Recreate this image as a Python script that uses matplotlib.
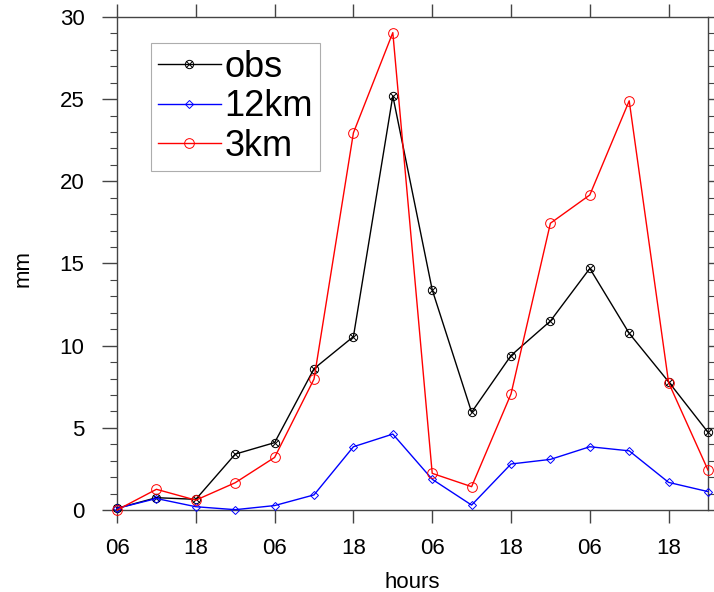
import matplotlib
matplotlib.use("Agg")
import matplotlib.pyplot as plt
from matplotlib.path import Path
from matplotlib.ticker import MultipleLocator

# precipitation every 6 hours
steps = list(range(16))
obs = [0.1, 0.75, 0.65, 3.4, 4.1, 8.6, 10.55, 25.2, 13.4, 5.95, 9.4, 11.5, 14.7, 10.75, 7.8, 4.73]
km12 = [0.1, 0.7, 0.2, 0.02, 0.27, 0.92, 3.85, 4.62, 1.87, 0.3, 2.8, 3.08, 3.85, 3.6, 1.68, 1.12]
km3 = [0.0, 1.26, 0.6, 1.66, 3.2, 7.97, 22.95, 29.05, 2.23, 1.42, 7.06, 17.45, 19.17, 24.9, 7.75, 2.43]
tick_pos = [0, 2, 4, 6, 8, 10, 12, 14]
tick_lab = ['06', '18', '06', '18', '06', '18', '06', '18']

plt.rcParams['font.family'] = ['Liberation Sans', 'DejaVu Sans']

# circle with a cross inside, like the NCL marker
circ = Path.unit_circle()
cross = Path([[-0.7, -0.7], [0.7, 0.7], [-0.7, 0.7], [0.7, -0.7]],
             [Path.MOVETO, Path.LINETO, Path.MOVETO, Path.LINETO])
circx = Path.make_compound_path(circ, cross)

fig = plt.figure(figsize=(7.14, 5.92), dpi=100)
ax = fig.add_axes([0.1639, 0.1385, 0.8277, 0.8328])

ax.plot(steps, obs, color='black', lw=1.0, marker=circx, ms=6, mfc='none',
        mew=0.7, label='obs', clip_on=False, zorder=3)
ax.plot(steps, km12, color='blue', lw=1.0, marker='D', ms=4.5, mfc='none',
        mew=0.7, label='12km', clip_on=False, zorder=3)
ax.plot(steps, km3, color='red', lw=1.0, marker='o', ms=7, mfc='none',
        mew=0.7, label='3km', clip_on=False, zorder=3)

ax.set_xlim(0, 15)
ax.set_ylim(0, 30)
ax.set_xticks(tick_pos)
ax.set_xticklabels(tick_lab)
ax.yaxis.set_major_locator(MultipleLocator(5))
ax.yaxis.set_minor_locator(MultipleLocator(1))

grey = '#444444'
for s in ax.spines.values():
    s.set_color(grey)
    s.set_linewidth(1.0)
ax.tick_params(axis='both', which='both', direction='out', colors=grey,
               labelcolor='black', labelsize=16, top=True, right=True)
ax.tick_params(axis='y', which='major', length=10.5, width=1.0, pad=13)
ax.tick_params(axis='y', which='minor', length=5.2, width=0.8)
ax.tick_params(axis='x', which='major', length=9.2, width=1.0, pad=11)

ax.set_xlabel('hours', fontsize=16, labelpad=9)
ax.set_ylabel('mm', fontsize=16)
ax.yaxis.set_label_coords(-0.142, 0.49)

leg = ax.legend(loc='upper left', bbox_to_anchor=(0.0575, 0.947),
                borderaxespad=0, fontsize=26, frameon=True, fancybox=False,
                handlelength=1.75, handletextpad=0.1, labelspacing=0.12,
                borderpad=0.19)
leg.get_frame().set_edgecolor('#999999')
leg.get_frame().set_linewidth(0.8)

plt.savefig('out.png', dpi=100)
